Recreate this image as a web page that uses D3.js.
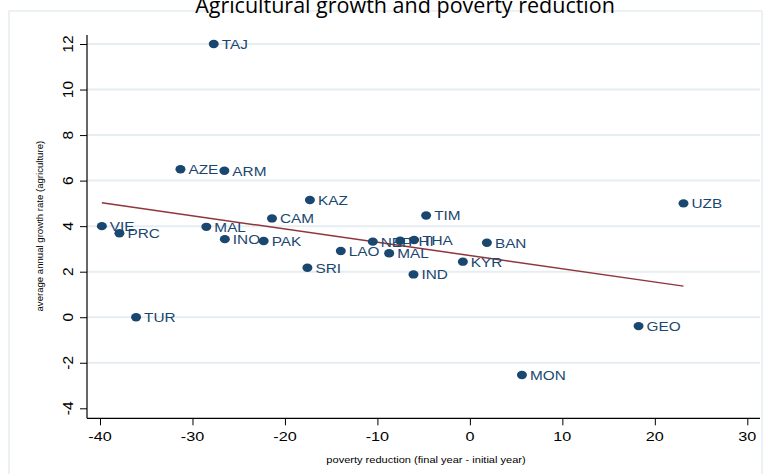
<!DOCTYPE html>
<html>
<head>
<meta charset="utf-8">
<script src="https://cdnjs.cloudflare.com/ajax/libs/d3/7.8.5/d3.min.js"></script>
<style>
  html, body { margin: 0; padding: 0; background: #ffffff; }
  svg { display: block; }
  text { font-family: "Liberation Sans", Arial, sans-serif; }
</style>
</head>
<body>
<svg id="chart" width="776" height="474"></svg>
<script>
// Country codes, poverty reduction (x) and agricultural growth (y)
const countries = ["TAJ","AZE","ARM","KAZ","CAM","TIM","UZB","VIE","PRC","MAL","INO","PAK",
                   "NEP","PHI","THA","BAN","LAO","MAL","KYR","SRI","IND","TUR","GEO","MON"];
const povertyReduction = [-27.7,-31.3,-26.55,-17.3,-21.4,-4.73,23.1,-39.8,-37.9,-28.5,-26.5,-22.3,
                          -10.5,-7.54,-6.03,1.84,-13.96,-8.73,-0.76,-17.57,-6.1,-36.1,18.24,5.63];
const agGrowth = [12.0,6.5,6.43,5.15,4.34,4.47,5.0,4.0,3.69,3.97,3.43,3.35,
                  3.32,3.36,3.39,3.27,2.91,2.81,2.44,2.17,1.88,0.0,-0.39,-2.54];
const xTicks = [-40,-30,-20,-10,0,10,20,30];
const yTicks = [-4,-2,0,2,4,6,8,10,12];

const title = "Agricultural growth and poverty reduction";
const xTitle = "poverty reduction (final year - initial year)";
const yTitle = "average annual growth rate (agriculture)";

const navy = "#1a476f", maroon = "#90353b", grid = "#e6eef1";
const SX = 1.2; // horizontal stretch applied to text glyphs

const svg = d3.select("#chart");

const x = d3.scaleLinear().domain([-40, 30]).range([100, 747.3]);
const y = d3.scaleLinear().domain([-4, 12]).range([408.3, 44]);

const plot = { left: 87, right: 760, top: 35, bottom: 418.3 };

// stretched text helper
function stext(parent, tx, ty, str, opts) {
  const g = parent.append("g").attr("transform", `translate(${tx},${ty}) scale(${opts.sx ?? SX},1)`);
  const t = g.append("text")
    .attr("text-anchor", opts.anchor || "start")
    .attr("font-size", opts.size)
    .attr("fill", opts.fill || "#000")
    .text(str);
  if (opts.family) t.style("font-family", opts.family);
  return t;
}

// outer frame
svg.append("path")
  .attr("d", `M9,474 L9,11 L762,11 L762,474`)
  .attr("fill", "none").attr("stroke", grid).attr("stroke-width", 1.5);

// gridlines
svg.append("g").selectAll("line")
  .data(yTicks.filter(t => t !== -4))
  .join("line")
  .attr("x1", plot.left).attr("x2", plot.right)
  .attr("y1", d => y(d)).attr("y2", d => y(d))
  .attr("stroke", grid).attr("stroke-width", 2);

// title
stext(svg, 405, 12.5, title, { size: 21.5, anchor: "middle", sx: 1.0, family: "'Open Sans', sans-serif" });

// axes
const xAxis = d3.axisBottom(x).tickValues(xTicks).tickSize(7).tickFormat(d3.format("d"));
const gx = svg.append("g").attr("transform", `translate(0,${plot.bottom})`).call(xAxis);
gx.select(".domain").remove();
gx.selectAll(".tick line").attr("stroke", "#000");
gx.selectAll(".tick text").remove();
svg.append("line").attr("x1", plot.left).attr("x2", plot.right)
  .attr("y1", plot.bottom).attr("y2", plot.bottom).attr("stroke", "#000").attr("stroke-width", 1.2);
xTicks.forEach(t => stext(svg, x(t), 441, d3.format("d")(t).replace("−", "-"), { size: 13.5, anchor: "middle" }));

const yAxis = d3.axisLeft(y).tickValues(yTicks).tickSize(7);
const gy = svg.append("g").attr("transform", `translate(${plot.left},0)`).call(yAxis);
gy.select(".domain").remove();
gy.selectAll(".tick line").attr("stroke", "#000");
gy.selectAll(".tick text").remove();
svg.append("line").attr("x1", plot.left).attr("x2", plot.left)
  .attr("y1", plot.top).attr("y2", plot.bottom).attr("stroke", "#000").attr("stroke-width", 1.2);
yTicks.forEach(t => {
  const g = svg.append("g").attr("transform", `translate(73,${y(t)}) rotate(-90)`);
  g.append("text").attr("text-anchor", "middle").attr("font-size", 15.5)
    .text(String(t));
});

// axis titles
svg.append("g").attr("transform", `translate(43,${(y(12) + y(-4)) / 2}) rotate(-90)`)
  .append("text").attr("text-anchor", "middle").attr("font-size", 9.6).text(yTitle);
stext(svg, 426, 463, xTitle, { size: 9.2, anchor: "middle" });

// OLS fitted line
const n = countries.length;
const mx = d3.mean(povertyReduction), my = d3.mean(agGrowth);
let sxy = 0, sxx = 0;
for (let i = 0; i < n; i++) {
  sxy += (povertyReduction[i] - mx) * (agGrowth[i] - my);
  sxx += (povertyReduction[i] - mx) ** 2;
}
const slope = sxy / sxx, icpt = my - slope * mx;
const [xmin, xmax] = d3.extent(povertyReduction);
svg.append("path")
  .datum([xmin, xmax])
  .attr("d", d3.line().x(d => x(d)).y(d => y(icpt + slope * d)))
  .attr("stroke", maroon).attr("stroke-width", 1.5).attr("fill", "none");

// labels then markers
const idx = d3.range(n);
idx.forEach(i => stext(svg, x(povertyReduction[i]) + 8, y(agGrowth[i]) + 5, countries[i],
  { size: 12.8, fill: navy }));
svg.append("g").selectAll("ellipse")
  .data(idx).join("ellipse")
  .attr("cx", i => x(povertyReduction[i]))
  .attr("cy", i => y(agGrowth[i]))
  .attr("rx", 5).attr("ry", 4.2)
  .attr("fill", navy);
</script>
</body>
</html>
